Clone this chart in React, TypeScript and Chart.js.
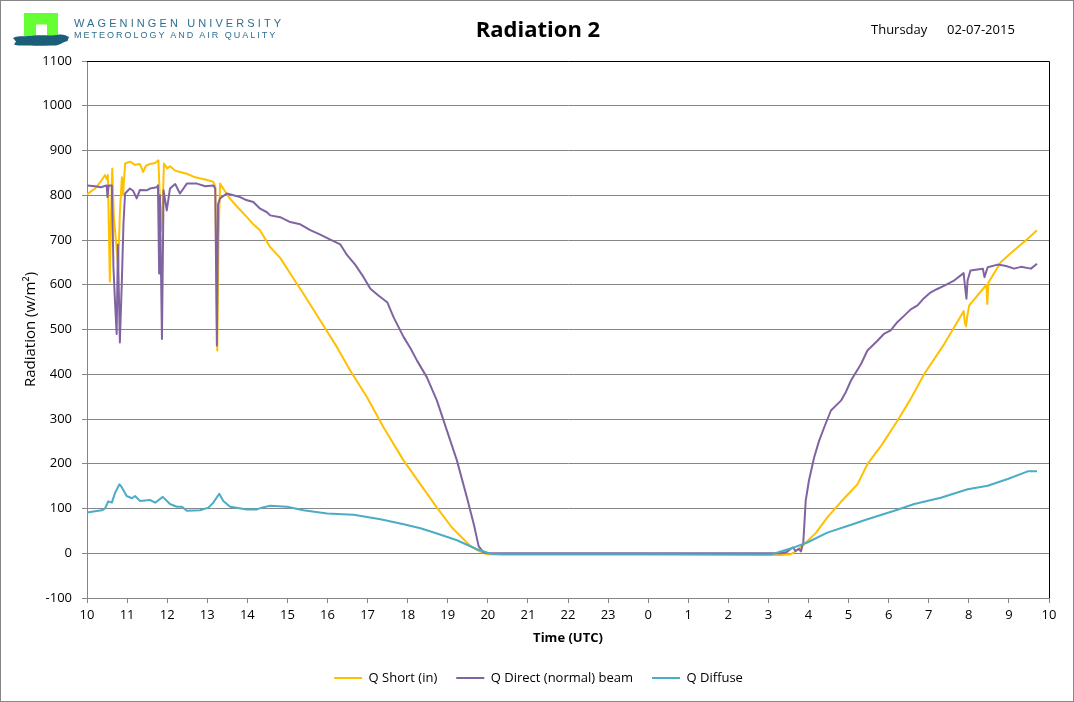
import React, { useEffect, useRef } from "react";
import { Chart, registerables } from "chart.js";

Chart.register(...registerables);

// x values are hours elapsed since 10:00 UTC (02-07-2015)
const hourLabels = ["10", "11", "12", "13", "14", "15", "16", "17", "18", "19", "20", "21", "22", "23", "0", "1", "2", "3", "4", "5", "6", "7", "8", "9", "10"];

const hoursShort = [0.0, 0.2, 0.32, 0.45, 0.5, 0.52, 0.57, 0.6, 0.63, 0.67, 0.72, 0.78, 0.82, 0.87, 0.9, 0.95, 1.07, 1.2, 1.32, 1.4, 1.47, 1.57, 1.7, 1.78, 1.82, 1.85, 1.88, 1.92, 2.0, 2.07, 2.2, 2.32, 2.49, 2.7, 2.95, 3.15, 3.2, 3.25, 3.28, 3.32, 3.45, 3.57, 3.77, 3.99, 4.15, 4.32, 4.57, 4.82, 5.07, 5.4, 5.82, 6.24, 6.57, 6.99, 7.4, 7.9, 8.32, 8.73, 9.11, 9.32, 9.57, 9.77, 9.98, 10.31, 12.5, 15.0, 17.31, 17.56, 17.64, 17.76, 17.89, 18.18, 18.47, 18.81, 19.22, 19.47, 19.81, 20.22, 20.55, 20.89, 21.39, 21.87, 21.9, 21.93, 21.96, 22.01, 22.44, 22.46, 22.49, 22.8, 23.13, 23.47, 23.7];
const qShort = [802, 815, 828, 845, 835, 845, 607, 760, 860, 750, 700, 639, 760, 840, 800, 871, 875, 868, 870, 852, 866, 870, 872, 878, 790, 721, 760, 871, 860, 865, 855, 852, 848, 840, 835, 830, 820, 453, 700, 826, 808, 792, 772, 751, 735, 721, 684, 660, 625, 580, 520, 460, 408, 348, 281, 207, 154, 102, 57, 38, 16, 5, -2, -3, -3, -3, -4, -2, 2, 10, 20, 45, 80, 115, 154, 199, 240, 296, 345, 401, 468, 541, 515, 507, 530, 554, 600, 557, 605, 651, 677, 703, 722];

const hoursDirect = [0.0, 0.2, 0.35, 0.49, 0.51, 0.54, 0.62, 0.66, 0.7, 0.74, 0.77, 0.82, 0.87, 0.91, 0.95, 1.07, 1.15, 1.24, 1.32, 1.49, 1.57, 1.74, 1.77, 1.8, 1.82, 1.87, 1.91, 1.99, 2.07, 2.2, 2.32, 2.49, 2.74, 2.95, 3.15, 3.2, 3.24, 3.27, 3.32, 3.49, 3.65, 3.82, 3.95, 4.15, 4.32, 4.49, 4.57, 4.82, 5.07, 5.32, 5.57, 5.82, 6.07, 6.32, 6.49, 6.69, 6.9, 7.07, 7.27, 7.49, 7.65, 7.9, 8.07, 8.23, 8.48, 8.73, 8.98, 9.23, 9.48, 9.65, 9.77, 9.9, 10.07, 13.0, 17.31, 17.46, 17.56, 17.61, 17.68, 17.76, 17.81, 17.87, 17.93, 18.01, 18.14, 18.26, 18.39, 18.56, 18.81, 18.93, 19.06, 19.31, 19.47, 19.72, 19.88, 20.05, 20.2, 20.39, 20.55, 20.72, 20.88, 21.05, 21.2, 21.39, 21.64, 21.87, 21.9, 21.94, 21.97, 22.04, 22.35, 22.39, 22.47, 22.72, 22.93, 23.13, 23.3, 23.55, 23.7];
const qDirect = [822, 820, 818, 822, 796, 822, 822, 639, 560, 490, 690, 471, 610, 737, 804, 815, 810, 793, 812, 811, 815, 818, 822, 625, 800, 479, 811, 766, 815, 825, 804, 826, 826, 820, 822, 815, 464, 780, 793, 804, 800, 796, 790, 785, 770, 762, 755, 751, 740, 735, 722, 712, 701, 690, 666, 645, 617, 591, 576, 561, 527, 483, 458, 431, 393, 341, 274, 207, 124, 65, 16, 1, 0, 0, 0, 3, 10, 13, 5, 10, 4, 24, 117, 162, 214, 250, 281, 319, 341, 360, 386, 423, 453, 475, 490, 498, 515, 531, 545, 554, 570, 583, 590, 598, 610, 626, 600, 569, 610, 632, 636, 617, 639, 645, 642, 636, 640, 636, 647];

const hoursDiffuse = [0.0, 0.2, 0.37, 0.45, 0.53, 0.62, 0.7, 0.81, 0.87, 0.99, 1.12, 1.2, 1.32, 1.45, 1.57, 1.7, 1.89, 2.07, 2.24, 2.37, 2.49, 2.82, 3.03, 3.15, 3.3, 3.4, 3.57, 3.99, 4.24, 4.36, 4.57, 4.99, 5.4, 5.99, 6.65, 7.32, 7.9, 8.32, 8.73, 9.23, 9.73, 10.07, 10.39, 14.0, 16.81, 17.06, 17.31, 17.64, 17.97, 18.47, 18.97, 19.47, 20.14, 20.64, 21.3, 21.97, 22.47, 22.97, 23.47, 23.7];
const qDiffuse = [91, 94, 96, 100, 116, 113, 135, 154, 147, 128, 123, 128, 117, 118, 119, 113, 126, 110, 104, 104, 95, 96, 102, 113, 133, 117, 104, 98, 98, 102, 106, 104, 96, 89, 86, 76, 65, 56, 44, 29, 9, -1, -2, -2, -3, -3, 4, 13, 24, 46, 61, 76, 95, 110, 124, 143, 151, 166, 183, 183];

const seriesNames = ["Q Short (in)", "Q Direct (normal) beam", "Q Diffuse"];
const seriesColors = ["#FFC000", "#8064A2", "#4BACC6"];

const FONT = "'Open Sans', 'Noto Sans', sans-serif";
const GRID = "#868686";

export default function App() {
  const canvasRef = useRef<HTMLCanvasElement>(null);

  useEffect(() => {
    document.body.style.margin = "0";
    const canvas = canvasRef.current;
    if (!canvas) return;
    const pts = (hs: number[], vs: number[]) => hs.map((h, i) => ({ x: h, y: vs[i] }));

    const framePlugin = {
      id: "frame",
      afterDraw(chart: any) {
        const { ctx, chartArea } = chart;
        const t = Math.round(chartArea.top) + 0.5;
        const r = Math.round(chartArea.right) + 0.5;
        ctx.save();
        ctx.strokeStyle = "#000";
        ctx.lineWidth = 1;
        ctx.beginPath();
        ctx.moveTo(chartArea.left, t);
        ctx.lineTo(r, t);
        ctx.lineTo(r, chartArea.bottom);
        ctx.stroke();
        ctx.restore();
      },
    };

    const mkSet = (i: number, data: any[], order: number) => ({
      label: seriesNames[i],
      data,
      borderColor: seriesColors[i],
      backgroundColor: seriesColors[i],
      borderWidth: 2,
      pointRadius: 0,
      pointHoverRadius: 0,
      tension: 0,
      borderJoinStyle: "round" as const,
      order,
    });

    const chart = new Chart(canvas, {
      type: "line",
      data: {
        datasets: [
          mkSet(0, pts(hoursShort, qShort), 2),
          mkSet(1, pts(hoursDirect, qDirect), 1),
          mkSet(2, pts(hoursDiffuse, qDiffuse), 0),
        ],
      },
      options: {
        animation: false,
        responsive: false,
        events: [],
        layout: { padding: { left: 28, top: 61, right: 25, bottom: 7.5 } },
        plugins: {
          title: { display: false },
          tooltip: { enabled: false },
          legend: {
            position: "bottom",
            labels: {
              usePointStyle: true,
              pointStyle: "line",
              pointStyleWidth: 28,
              padding: 19,
              color: "#000",
              font: { family: FONT, size: 13 },
              sort: (a: any, b: any) => a.datasetIndex - b.datasetIndex,
            },
          },
        },
        scales: {
          x: {
            type: "linear",
            min: 0,
            max: 24,
            afterFit: (s: any) => {
              s.height = 54.5;
            },
            ticks: {
              stepSize: 1,
              autoSkip: false,
              maxRotation: 0,
              padding: 4,
              color: "#000",
              font: { family: FONT, size: 13 },
              callback: (v: any) => hourLabels[Math.round(Number(v))],
            },
            grid: { drawOnChartArea: false, color: GRID, tickLength: 5 },
            border: { color: GRID, width: 1 },
            title: {
              display: true,
              text: "Time (UTC)",
              color: "#000",
              font: { family: FONT, size: 13, weight: "bold" },
              padding: { top: 0, bottom: 6.7 },
            },
          },
          y: {
            min: -100,
            max: 1100,
            afterFit: (s: any) => {
              s.width = 59;
            },
            ticks: {
              stepSize: 100,
              padding: 10,
              color: "#000",
              font: { family: FONT, size: 13 },
              callback: (v: any) => String(v),
            },
            grid: { color: GRID, tickLength: 5 },
            border: { color: GRID, width: 1 },
            title: {
              display: true,
              text: "Radiation (w/m²)",
              color: "#000",
              font: { family: FONT, size: 15 },
              padding: { top: -6, bottom: 0 },
            },
          },
        },
      },
      plugins: [framePlugin],
    });

    return () => chart.destroy();
  }, []);

  return (
    <div style={{ position: "absolute", left: 0, top: 0, width: 1074, height: 702, background: "#fff", overflow: "hidden" }}>
      <canvas ref={canvasRef} width={1074} height={702} style={{ position: "absolute", left: 0, top: 0, width: 1074, height: 702 }} />
      <div style={{ position: "absolute", left: 0, top: 0, width: 1074, height: 702, boxSizing: "border-box", border: "1px solid #868686", pointerEvents: "none" }} />
      <svg width={60} height={40} style={{ position: "absolute", left: 11, top: 11 }}>
        <path d="M13 2 H47 V25 H36 V13.5 H25 V25 H13 Z" fill="#66FF33" />
        <path d="M2 27 C8 24 15 26 23 24.5 C31 23.5 40 25.5 48 23.5 C52 23 56 24.5 58 26 L56.5 30 C52 31 50 33.5 45 34.5 C36 34 28 35.5 20 34.5 C13 34 7 35.5 3 33.5 L5 30.5 Z" fill="#1B5E78" />
      </svg>
      <div style={{ position: "absolute", left: 74, top: 17, fontFamily: "'Liberation Sans', Arial, sans-serif", fontSize: 11, lineHeight: "13px", letterSpacing: 3.1, color: "#2E6E8E", whiteSpace: "nowrap" }}>
        WAGENINGEN UNIVERSITY
      </div>
      <div style={{ position: "absolute", left: 74, top: 30.4, fontFamily: "'Liberation Sans', Arial, sans-serif", fontSize: 9, lineHeight: "11px", letterSpacing: 2, color: "#2E6E8E", whiteSpace: "nowrap" }}>
        METEOROLOGY AND AIR QUALITY
      </div>
      <div style={{ position: "absolute", left: 338, width: 400, top: 13, textAlign: "center", fontFamily: FONT, fontWeight: "bold", fontSize: 22, lineHeight: "30px", color: "#000" }}>
        Radiation 2
      </div>
      <div style={{ position: "absolute", left: 871, top: 20, fontFamily: FONT, fontSize: 13, lineHeight: "18px", color: "#000", whiteSpace: "nowrap" }}>
        Thursday
      </div>
      <div style={{ position: "absolute", left: 947, top: 20, fontFamily: FONT, fontSize: 13, lineHeight: "18px", color: "#000", whiteSpace: "nowrap" }}>
        02-07-2015
      </div>
    </div>
  );
}
